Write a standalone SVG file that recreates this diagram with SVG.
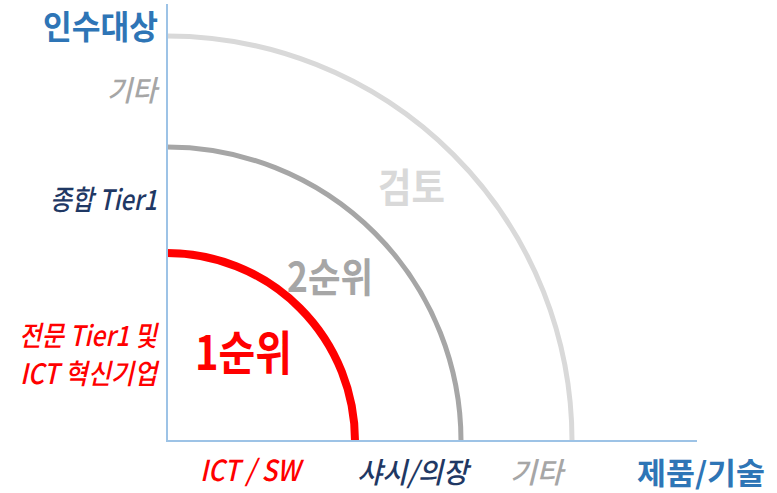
<svg xmlns="http://www.w3.org/2000/svg" width="777" height="493" viewBox="0 0 777 493">
<style>
.t{font-family:"Noto Sans CJK KR","Noto Sans",sans-serif;}
.b{font-weight:bold;}
.i{font-style:italic;font-weight:500;}
.arc{fill:none;}
.axis{stroke:#9dc3e6;stroke-width:2;fill:none;}
</style>
<rect width="777" height="493" fill="#ffffff"/>
<g id="arcs">
<path class="arc" d="M167 36 A405 405 0 0 1 572 441" stroke="#d9d9d9" stroke-width="5"/>
<path class="arc" d="M167 147 A294 294 0 0 1 461 441" stroke="#a6a6a6" stroke-width="5"/>
<path class="arc" d="M167 253 A188 188 0 0 1 355 441" stroke="#ff0000" stroke-width="8"/>
</g>
<g id="axes">
<path class="axis" d="M167 4 V441 H697"/>
</g>
<g id="y-labels">
<text class="t b" x="43" y="39" font-size="33" fill="#2e75b6" textLength="115" lengthAdjust="spacingAndGlyphs">인수대상</text>
<text class="t i" x="107" y="101" font-size="29" fill="#a6a6a6" textLength="50" lengthAdjust="spacingAndGlyphs">기타</text>
<text class="t i" x="50" y="210" font-size="28" fill="#1f3864" textLength="107" lengthAdjust="spacingAndGlyphs">종합 Tier1</text>
<text class="t i" x="19" y="346" font-size="28" fill="#ff0000" textLength="138" lengthAdjust="spacingAndGlyphs">전문 Tier1 및</text>
<text class="t i" x="20" y="384" font-size="28" fill="#ff0000" textLength="137" lengthAdjust="spacingAndGlyphs">ICT 혁신기업</text>
</g>
<g id="rank-labels">
<text class="t b" x="378" y="202" font-size="40" fill="#d9d9d9" textLength="67" lengthAdjust="spacingAndGlyphs">검토</text>
<text class="t b" x="287" y="292" font-size="40" fill="#a6a6a6" textLength="86" lengthAdjust="spacingAndGlyphs">2순위</text>
<text class="t b" x="195" y="370" font-size="47" fill="#ff0000" textLength="97" lengthAdjust="spacingAndGlyphs">1순위</text>
</g>
<g id="x-labels">
<text class="t i" x="200" y="481" font-size="29" fill="#ff0000" textLength="100" lengthAdjust="spacingAndGlyphs">ICT / SW</text>
<text class="t i" x="357" y="483" font-size="29" fill="#1f3864" textLength="111" lengthAdjust="spacingAndGlyphs">샤시/의장</text>
<text class="t i" x="510" y="483" font-size="29" fill="#a6a6a6" textLength="53" lengthAdjust="spacingAndGlyphs">기타</text>
<text class="t b" x="637" y="484" font-size="30" fill="#2e75b6" textLength="128" lengthAdjust="spacingAndGlyphs">제품/기술</text>
</g>
</svg>
